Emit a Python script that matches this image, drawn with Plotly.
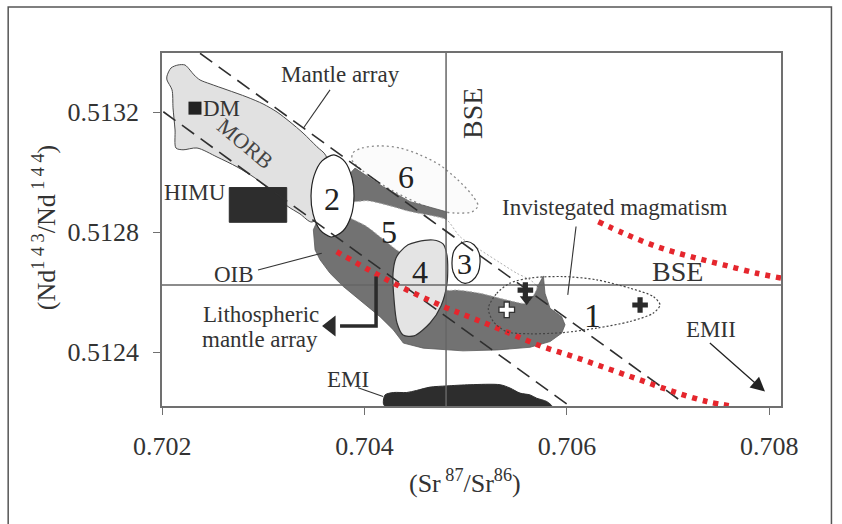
import plotly.graph_objects as go

# ---------------- data (Sr87/Sr86 , Nd143/Nd144) ----------------
x_ticks = [0.702, 0.704, 0.706, 0.708]
x_tick_text = ["0.702", "0.704", "0.706", "0.708"]
y_ticks = [0.5124, 0.5128, 0.5132]
y_tick_text = ["0.5124", "0.5128", "0.5132"]

bse_sr = 0.704805
bse_nd = 0.512624

# mantle array (dashed)
array_upper_x = [0.702373, 0.707138]
array_upper_y = [0.513397, 0.512234]
array_lower_x = [0.702010, 0.705998]
array_lower_y = [0.513202, 0.512227]

# red dotted curves
red_low_x = [0.703724, 0.704021, 0.704350, 0.704778, 0.705075, 0.705405, 0.705734,
             0.706063, 0.706393, 0.706723, 0.707052, 0.707382, 0.707645]
red_low_y = [0.512735, 0.512678, 0.512619, 0.512552, 0.512512, 0.512467, 0.512421,
             0.512385, 0.512346, 0.512307, 0.512268, 0.512235, 0.512219]
red_up_x = [0.706310, 0.706557, 0.706888, 0.707217, 0.707546, 0.707876, 0.708116]
red_up_y = [0.512835, 0.512797, 0.512752, 0.512719, 0.512691, 0.512663, 0.512647]

# MORB field
morb_x = [0.702046, 0.702086, 0.702155, 0.702224, 0.702274, 0.702313, 0.702373, 0.702472,
          0.702640, 0.702837, 0.702996, 0.703134, 0.703262, 0.703391, 0.703529, 0.703618,
          0.703658, 0.703480, 0.703361, 0.703233, 0.703065, 0.702916, 0.702738, 0.702541,
          0.702343, 0.702205, 0.702135, 0.702126, 0.702106, 0.702096, 0.702046]
morb_y = [0.513321, 0.513348, 0.513358, 0.513358, 0.513341, 0.513325, 0.513308, 0.513295,
          0.513275, 0.513251, 0.513228, 0.513201, 0.513168, 0.513131, 0.513085, 0.513055,
          0.512908, 0.512834, 0.512861, 0.512888, 0.512941, 0.512981, 0.513018, 0.513051,
          0.513081, 0.513075, 0.513081, 0.513141, 0.513215, 0.513275, 0.513308]

# OIB field (dark)
oib_x = [0.703905, 0.704182, 0.704449, 0.704676, 0.704810, 0.704810, 0.705042, 0.705339,
         0.705586, 0.705714, 0.705744, 0.705767, 0.705783, 0.705833, 0.705948, 0.705981,
         0.705948, 0.705833, 0.705635, 0.705306, 0.704973, 0.704580, 0.704383, 0.704284,
         0.704152, 0.703954, 0.703789, 0.703658, 0.703559, 0.703510, 0.703493, 0.703559,
         0.703707]
oib_y = [0.513014, 0.512952, 0.512902, 0.512880, 0.512868, 0.512824, 0.512741, 0.512681,
         0.512628, 0.512621, 0.512641, 0.512654, 0.512596, 0.512546, 0.512518, 0.512491,
         0.512463, 0.512435, 0.512416, 0.512407, 0.512404, 0.512413, 0.512430, 0.512474,
         0.512518, 0.512574, 0.512619, 0.512663, 0.512708, 0.512741, 0.512808, 0.512858,
         0.512941]

# field 5 (white band)
f5_x = [0.703757, 0.703905, 0.704021, 0.704218, 0.704449, 0.704679, 0.704812, 0.704943,
        0.705141, 0.705339, 0.705504, 0.705635, 0.705704, 0.705665, 0.705605, 0.705405,
        0.705141, 0.704910, 0.704812, 0.704745, 0.704399, 0.704317, 0.704152, 0.704021,
        0.703856, 0.703757]
f5_y = [0.512908, 0.512902, 0.512905, 0.512891, 0.512869, 0.512854, 0.512841, 0.512785,
        0.512741, 0.512698, 0.512663, 0.512641, 0.512618, 0.512587, 0.512563, 0.512574,
        0.512596, 0.512607, 0.512607, 0.512641, 0.512724, 0.512741, 0.512785, 0.512819,
        0.512847, 0.512863]

# field 6 (dotted)
f6_x = [0.703885, 0.703974, 0.704152, 0.704350, 0.704548, 0.704745, 0.704923, 0.705062,
        0.705121, 0.705062, 0.704894, 0.704745, 0.704548, 0.704300, 0.704103, 0.703935,
        0.703875]
f6_y = [0.513065, 0.513081, 0.513088, 0.513081, 0.513058, 0.513024, 0.512974, 0.512924,
        0.512888, 0.512868, 0.512864, 0.512871, 0.512894, 0.512934, 0.512974, 0.513018,
        0.513041]

# field 2
f2_x = [0.703697, 0.703806, 0.703875, 0.703895, 0.703866, 0.703786, 0.703668, 0.703559,
        0.703490, 0.703470, 0.703500, 0.703579]
f2_y = [0.513058, 0.513035, 0.512981, 0.512921, 0.512854, 0.512804, 0.512784, 0.512808,
        0.512861, 0.512921, 0.512988, 0.513038]

# field 3
f3_x = [0.705012, 0.705081, 0.705131, 0.705141, 0.705121, 0.705062, 0.704992, 0.704923,
        0.704874, 0.704864, 0.704884, 0.704943]
f3_y = [0.512769, 0.512758, 0.512731, 0.512699, 0.512664, 0.512638, 0.512629, 0.512641,
        0.512668, 0.512701, 0.512738, 0.512761]

# field 4
f4_x = [0.704350, 0.704429, 0.704518, 0.704676, 0.704775, 0.704815, 0.704815, 0.704755,
        0.704647, 0.704488, 0.704380, 0.704320, 0.704291, 0.704281, 0.704310]
f4_y = [0.512734, 0.512758, 0.512768, 0.512774, 0.512761, 0.512721, 0.512631, 0.512554,
        0.512497, 0.512454, 0.512457, 0.512497, 0.512574, 0.512664, 0.512714]

# field 1 (investigated magmatism, dotted)
f1_x = [0.705223, 0.705306, 0.705437, 0.705635, 0.705964, 0.706294, 0.706624, 0.706854,
        0.706920, 0.706854, 0.706624, 0.706294, 0.705964, 0.705635, 0.705405, 0.705272]
f1_y = [0.512546, 0.512596, 0.512630, 0.512647, 0.512652, 0.512641, 0.512613, 0.512585,
        0.512557, 0.512530, 0.512502, 0.512480, 0.512465, 0.512461, 0.512468, 0.512502]

# EMI field
emi_x = [0.705850, 0.705800, 0.705701, 0.705635, 0.705536, 0.705437, 0.705339, 0.705042,
         0.704812, 0.704647, 0.704515, 0.704416, 0.704284, 0.704202, 0.704185, 0.704202]
emi_y = [0.512219, 0.512235, 0.512246, 0.512257, 0.512263, 0.512280, 0.512291, 0.512291,
         0.512287, 0.512283, 0.512272, 0.512265, 0.512265, 0.512257, 0.512230, 0.512219]

# HIMU box
himu_x = [0.702662, 0.703230, 0.703230, 0.702662]
himu_y = [0.512833, 0.512833, 0.512949, 0.512949]

# points
dm_x, dm_y = [0.702323], [0.513214]
black_cross_x = [0.706723, 0.705589]
black_cross_y = [0.512557, 0.512607]
white_cross_x, white_cross_y = [0.705405], [0.512541]
down_arrow_x, down_arrow_y = [0.705602], [0.512576]

# lithospheric mantle array arrow
litho_x = [0.704113, 0.704113, 0.703757]
litho_y = [0.512652, 0.512487, 0.512487]
litho_head_x, litho_head_y = [0.703668], [0.512487]

# leader lines
leaders = [
    ([0.703658, 0.703394], [0.513275, 0.513147]),   # Mantle array
    ([0.702946, 0.703576], [0.512674, 0.512730]),   # OIB
    ([0.703935, 0.704182], [0.512281, 0.512252]),   # EMI
    ([0.706090, 0.706008], [0.512819, 0.512591]),   # Invistegated magmatism
]

# text labels: (text, x, y, size, angle, color)
labels = [
    ("Mantle array", 0.703757, 0.513325, 23, 0, "#333"),
    ("DM", 0.702587, 0.513214, 23, 0, "#333"),
    ("MORB", 0.702818, 0.513097, 22, 40, "#444"),
    ("HIMU", 0.702323, 0.512933, 23, 0, "#333"),
    ("OIB", 0.702706, 0.512658, 23, 0, "#333"),
    ("Lithospheric", 0.702973, 0.512527, 23, 0, "#333"),
    ("mantle array", 0.702966, 0.512443, 23, 0, "#333"),
    ("EMI", 0.703839, 0.512310, 23, 0, "#333"),
    ("EMII", 0.707427, 0.512474, 23, 0, "#333"),
    ("Invistegated magmatism", 0.706475, 0.512882, 23, 0, "#333"),
    ("BSE", 0.707088, 0.512669, 28, 0, "#333"),
    ("BSE", 0.705059, 0.513197, 28, -90, "#333"),
    ("2", 0.703681, 0.512911, 32, 0, "#222"),
    ("6", 0.704406, 0.512985, 32, 0, "#222"),
    ("5", 0.704244, 0.512802, 32, 0, "#222"),
    ("4", 0.704548, 0.512667, 32, 0, "#222"),
    ("3", 0.704992, 0.512694, 30, 0, "#222"),
    ("1", 0.706255, 0.512522, 34, 0, "#222"),
]

# EMII arrow (start -> tip)
emii_start = (0.707398, 0.512435)
emii_tip = (0.707958, 0.512268)

X_RANGE = [0.701997, 0.708116]
Y_RANGE = [0.512220, 0.513398]

FONT = "Liberation Serif, Times New Roman, serif"


def closed(a):
    return list(a) + [a[0]]


fig = go.Figure()


def poly(xs, ys, fill, line_color, line_width=1.0, dash="solid", smooth=True):
    fig.add_trace(go.Scatter(
        x=closed(xs), y=closed(ys), mode="lines", fill="toself", fillcolor=fill,
        line=dict(color=line_color, width=line_width, dash=dash,
                  shape="spline" if smooth else "linear", smoothing=0.8),
        hoverinfo="skip", showlegend=False))


poly(f6_x, f6_y, "#fbfbfb", "#8a8a8a", 1.3, "2px,3px")
poly(morb_x, morb_y, "#e1e1e1", "#4a4a4a", 1.0)
poly(oib_x, oib_y, "#727272", "#5a5a5a", 0.8, "solid", smooth=False)
poly(f5_x, f5_y, "#ffffff", "#b0b0b0", 1.0, "2px,2px")
poly(himu_x, himu_y, "#2d2d2d", "#2d2d2d", 1.0, "solid", smooth=False)
poly(f2_x, f2_y, "#ffffff", "#222", 1.2)
poly(f4_x, f4_y, "#e4e4e4", "#333", 1.2)
poly(f3_x, f3_y, "#ffffff", "#222", 1.2)
poly(emi_x, emi_y, "#2d2d2d", "#2d2d2d", 1.0)

# BSE reference lines
fig.add_trace(go.Scatter(x=[bse_sr, bse_sr], y=Y_RANGE, mode="lines",
                         line=dict(color="#666", width=1.5), hoverinfo="skip", showlegend=False))
fig.add_trace(go.Scatter(x=X_RANGE, y=[bse_nd, bse_nd], mode="lines",
                         line=dict(color="#666", width=1.5), hoverinfo="skip", showlegend=False))

# mantle array
for xs, ys in [(array_upper_x, array_upper_y), (array_lower_x, array_lower_y)]:
    fig.add_trace(go.Scatter(x=xs, y=ys, mode="lines",
                             line=dict(color="#2f2f2f", width=1.6, dash="15px,8px"),
                             hoverinfo="skip", showlegend=False))

# red dotted curves
for xs, ys in [(red_low_x, red_low_y), (red_up_x, red_up_y)]:
    fig.add_trace(go.Scatter(x=xs, y=ys, mode="lines",
                             line=dict(color="#e5262d", width=5.5, dash="5px,6px", shape="spline"),
                             hoverinfo="skip", showlegend=False))

# field 1 outline
fig.add_trace(go.Scatter(x=closed(f1_x), y=closed(f1_y), mode="lines",
                         line=dict(color="#444", width=1.2, dash="2px,2px", shape="spline", smoothing=0.8),
                         hoverinfo="skip", showlegend=False))

# leader lines
for xs, ys in leaders:
    fig.add_trace(go.Scatter(x=xs, y=ys, mode="lines", line=dict(color="#333", width=1.1),
                             hoverinfo="skip", showlegend=False))

# lithospheric arrow
fig.add_trace(go.Scatter(x=litho_x, y=litho_y, mode="lines", line=dict(color="#2b2b2b", width=3.5),
                         hoverinfo="skip", showlegend=False))
fig.add_trace(go.Scatter(x=litho_head_x, y=litho_head_y, mode="markers",
                         marker=dict(symbol="triangle-left", size=18, color="#2b2b2b"),
                         hoverinfo="skip", showlegend=False))

# points
fig.add_trace(go.Scatter(x=dm_x, y=dm_y, mode="markers",
                         marker=dict(symbol="square", size=13, color="#222"),
                         hoverinfo="skip", showlegend=False))
fig.add_trace(go.Scatter(x=down_arrow_x, y=down_arrow_y, mode="markers",
                         marker=dict(symbol="triangle-down", size=12, color="#2b2b2b"),
                         hoverinfo="skip", showlegend=False))
fig.add_trace(go.Scatter(x=black_cross_x, y=black_cross_y, mode="markers",
                         marker=dict(symbol="cross", size=13, color="#2b2b2b"),
                         hoverinfo="skip", showlegend=False))
fig.add_trace(go.Scatter(x=white_cross_x, y=white_cross_y, mode="markers",
                         marker=dict(symbol="cross", size=13, color="#ffffff",
                                     line=dict(color="#333", width=1.3)),
                         hoverinfo="skip", showlegend=False))

annotations = []
for text, x, y, size, ang, col in labels:
    annotations.append(dict(text=text, x=x, y=y, xref="x", yref="y", showarrow=False,
                            textangle=ang, xanchor="center", yanchor="middle",
                            font=dict(family=FONT, size=size, color=col)))

annotations.append(dict(text="", x=emii_tip[0], y=emii_tip[1], ax=emii_start[0], ay=emii_start[1],
                        xref="x", yref="y", axref="x", ayref="y", showarrow=True,
                        arrowhead=2, arrowsize=2.2, arrowwidth=1.3, arrowcolor="#222"))

# axis titles
annotations.append(dict(text="(Sr<sup> 87</sup>/Sr<sup>86</sup>)", x=0.4895, y=-0.215,
                        xref="paper", yref="paper", showarrow=False, xanchor="center", yanchor="middle",
                        font=dict(family=FONT, size=26, color="#333")))
annotations.append(dict(text="(Nd<sup>1 4 3</sup>/Nd<sup> 1 4 4</sup>)", x=-0.19, y=0.505,
                        xref="paper", yref="paper", showarrow=False, textangle=-90,
                        xanchor="center", yanchor="middle",
                        font=dict(family=FONT, size=26, color="#333")))

fig.update_layout(
    width=842, height=524,
    margin=dict(l=162, r=61, t=53, b=118),
    paper_bgcolor="white", plot_bgcolor="white",
    showlegend=False,
    annotations=annotations,
    shapes=[dict(type="rect", xref="paper", yref="paper",
                 x0=-0.2485, x1=1.0815, y0=-0.36, y1=1.13,
                 line=dict(color="#555", width=1.5), fillcolor="rgba(0,0,0,0)", layer="above")],
    xaxis=dict(range=X_RANGE, tickvals=x_ticks, ticktext=x_tick_text, showgrid=False, zeroline=False,
               showline=True, mirror=True, linecolor="#707070", linewidth=1.5,
               ticks="outside", ticklen=7, tickcolor="#707070", tickwidth=1.2, ticklabelstandoff=9,
               tickfont=dict(family=FONT, size=26, color="#333")),
    yaxis=dict(range=Y_RANGE, tickvals=y_ticks, ticktext=y_tick_text, showgrid=False, zeroline=False,
               showline=True, mirror=True, linecolor="#707070", linewidth=1.5,
               ticks="outside", ticklen=7, tickcolor="#707070", tickwidth=1.2, ticklabelstandoff=9,
               tickfont=dict(family=FONT, size=26, color="#333")),
)

fig.write_html("out.html")
